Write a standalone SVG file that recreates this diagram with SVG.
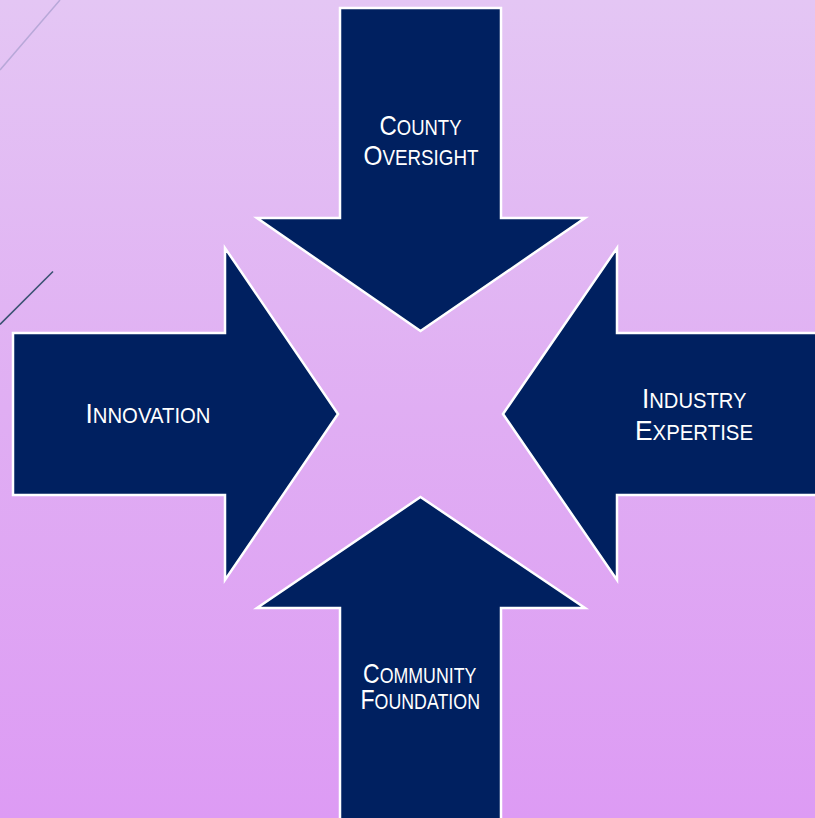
<svg xmlns="http://www.w3.org/2000/svg" width="815" height="818" viewBox="0 0 815 818">
<defs>
<linearGradient id="bg" x1="0" y1="0" x2="0" y2="1">
<stop offset="0" stop-color="#E4C6F4"/>
<stop offset="0.5" stop-color="#E0AEF3"/>
<stop offset="1" stop-color="#DD9BF4"/>
</linearGradient>
<style>
.arrow{fill:#002060;stroke:#FFFFFF;stroke-width:2.5;stroke-linejoin:miter}
.lbl{fill:#FFFFFF;font-family:"Liberation Sans",Arial,sans-serif}
.big{font-size:28.5px}
.sm{font-size:22px}
</style>
</defs>
<rect x="0" y="0" width="815" height="818" fill="url(#bg)"/>
<line x1="60" y1="0" x2="0" y2="70" stroke="#B8A8D8" stroke-width="1.5"/>
<line x1="53" y1="271.5" x2="0" y2="324.5" stroke="#3A5272" stroke-width="1.6"/>
<g id="connectors"></g>
<g id="node-county">
<polygon class="arrow" points="340,8 501,8 501,218 585,218 420.5,331 257,218 340,218"/>
<text class="lbl" x="379.5" y="135" textLength="82" lengthAdjust="spacingAndGlyphs"><tspan class="big">C</tspan><tspan class="sm">OUNTY</tspan></text>
<text class="lbl" x="363.5" y="165" textLength="115" lengthAdjust="spacingAndGlyphs"><tspan class="big">O</tspan><tspan class="sm">VERSIGHT</tspan></text>
</g>
<g id="node-innovation">
<polygon class="arrow" points="13,333 225,333 225,248 338,414 225,580 225,495 13,495"/>
<text class="lbl" x="85.5" y="423" textLength="125" lengthAdjust="spacingAndGlyphs"><tspan class="big">I</tspan><tspan class="sm">NNOVATION</tspan></text>
</g>
<g id="node-industry">
<polygon class="arrow" points="830,333 617,333 617,248 503,414 617,580 617,495 830,495"/>
<text class="lbl" x="642" y="407.5" textLength="104.5" lengthAdjust="spacingAndGlyphs"><tspan class="big">I</tspan><tspan class="sm">NDUSTRY</tspan></text>
<text class="lbl" x="635" y="440" textLength="118" lengthAdjust="spacingAndGlyphs"><tspan class="big">E</tspan><tspan class="sm">XPERTISE</tspan></text>
</g>
<g id="node-community">
<polygon class="arrow" points="340,830 340,608 257,608 420.5,497 585,608 501,608 501,830"/>
<text class="lbl" x="363" y="682.5" textLength="113.5" lengthAdjust="spacingAndGlyphs"><tspan class="big">C</tspan><tspan class="sm">OMMUNITY</tspan></text>
<text class="lbl" x="360.5" y="708.5" textLength="119.5" lengthAdjust="spacingAndGlyphs"><tspan class="big">F</tspan><tspan class="sm">OUNDATION</tspan></text>
</g>
</svg>
